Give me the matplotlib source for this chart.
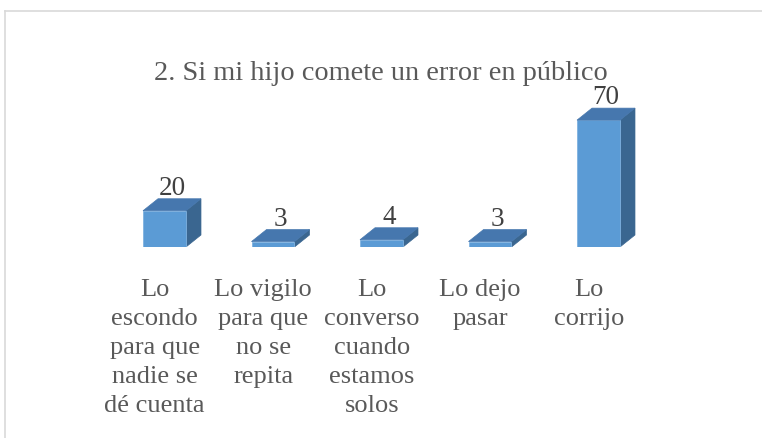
import matplotlib
matplotlib.use("Agg")
import matplotlib.pyplot as plt
from matplotlib.patches import Polygon
from matplotlib.lines import Line2D

plt.rcParams["font.family"] = "serif"
plt.rcParams["font.serif"] = ["Liberation Serif", "DejaVu Serif"]

title = "2. Si mi hijo comete un error en público"
categories = [
    "Lo\nescondo\npara que\nnadie se\ndé cuenta",
    "Lo vigilo\npara que\nno se\nrepita",
    "Lo\nconverso\ncuando\nestamos\nsolos",
    "Lo dejo\npasar",
    "Lo\ncorrijo",
]
values = [20, 3, 4, 3, 70]

W, H = 762, 438
fig = plt.figure(figsize=(W / 100, H / 100), dpi=100)
fig.patch.set_facecolor("white")

text_color = "#595959"

# axes: x from -0.5 to 4.5 -> px 110.25..652.75 ; y 0..80 -> px 247..102
px_left, px_right = 110.25, 652.75
px_y0, px_ytop = 247, 102
ax = fig.add_axes([px_left / W, (H - px_y0) / H, (px_right - px_left) / W, (px_y0 - px_ytop) / H])
ax.set_xlim(-0.5, 4.5)
ax.set_ylim(0, 80)
ax.axis("off")

w = 0.396
dx = 15 / 108.5
dy = 12 / (145 / 80)
front = "#5B9BD5"
top_c = "#4677AE"
side_c = "#3A6690"

xs = list(range(len(values)))
ax.bar(xs, values, width=w, color=front, edgecolor="#7FB2E0", linewidth=0.6, zorder=3)
for i, v in zip(xs, values):
    l, r = i - w / 2, i + w / 2
    ax.add_patch(Polygon([(r, 0), (r + dx, dy), (r + dx, v + dy), (r, v)],
                         closed=True, facecolor=side_c, edgecolor=side_c, lw=0.5, zorder=2))
    ax.add_patch(Polygon([(l, v), (l + dx, v + dy), (r + dx, v + dy), (r, v)],
                         closed=True, facecolor=top_c, edgecolor=top_c, lw=0.5, zorder=4))
    ax.text(i + dx / 2, v + dy - 1.2, str(v), ha="center", va="bottom",
            fontsize=19.5, color="#404040", clip_on=False)
    ax.text(i - 0.09, -17.5, categories[i], ha="center", va="top",
            fontsize=19, color=text_color, linespacing=1.42, clip_on=False)

fig.text(381 / W, 1 - 73 / H, title, ha="center", va="center",
         fontsize=20.4, color=text_color)

# chart frame (partially visible)
fig.add_artist(Line2D([5 / W, 1], [1 - 11 / H, 1 - 11 / H], color="#D9D9D9", lw=1.2))
fig.add_artist(Line2D([5 / W, 5 / W], [0, 1 - 11 / H], color="#D9D9D9", lw=1.2))

fig.savefig("out.png", dpi=100, facecolor="white")
